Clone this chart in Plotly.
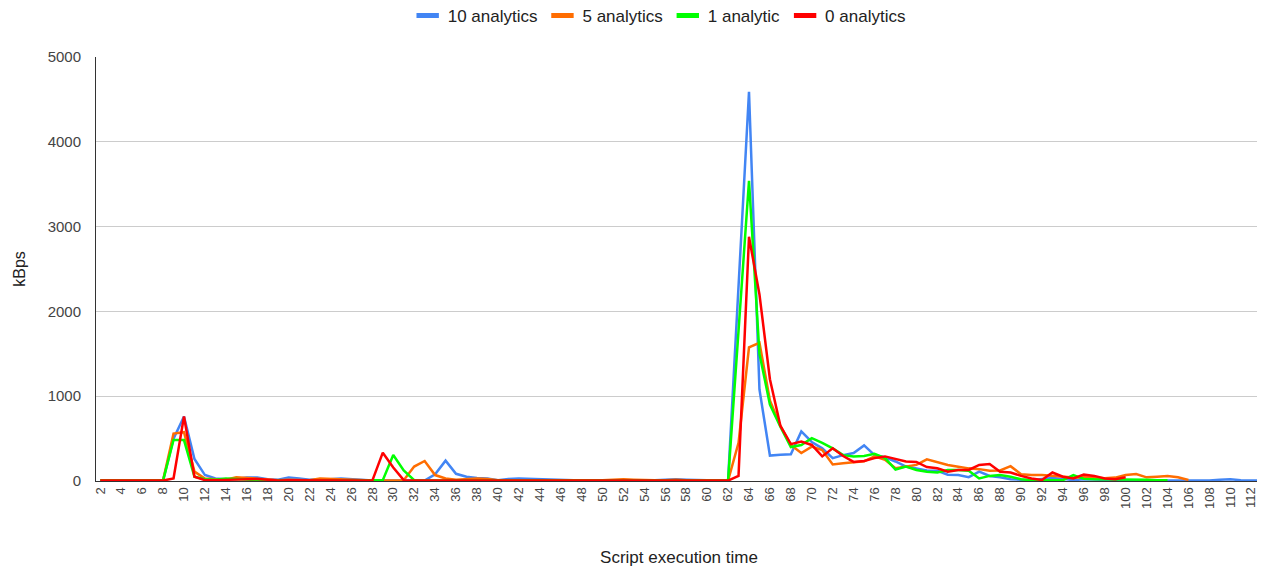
import plotly.graph_objects as go

x_vals = list(range(2, 114))

ten_analytics = [
    5, 5, 5, 5, 5, 5, 5, 500, 760, 260,          # 2-11
    70, 30, 20, 25, 40, 40, 20, 15, 40, 30,      # 12-21
    15, 20, 20, 30, 20, 10, 5, 5, 5, 5,          # 22-31
    5, 5, 80, 240, 85, 50, 35, 30, 10, 25,       # 32-41
    30, 25, 20, 15, 10, 5, 5, 5, 5, 5,           # 42-51
    5, 5, 10, 10, 15, 20, 15, 10, 5, 5,          # 52-61
    5, 2300, 4590, 1080, 300, 310, 315, 585, 460, 385,   # 62-71
    270, 305, 330, 420, 305, 280, 230, 170, 150, 125,    # 72-81
    120, 75, 70, 45, 110, 60, 45, 20, 15, 10,            # 82-91
    25, 35, 25, 10, 20, 15, 10, 10, 10, 5,               # 92-101
    5, 5, 5, 5, 5, 5, 5, 15, 20, 10,                     # 102-111
    5, 5                                                 # 112-113
]

five_analytics = [
    10, 10, 10, 10, 10, 10, 10, 560, 575, 110,   # 2-11
    30, 20, 15, 45, 35, 30, 15, 10, 15, 15,      # 12-21
    10, 30, 25, 20, 10, 10, 5, 5, 5, 10,         # 22-31
    170, 236, 70, 30, 15, 20, 30, 25, 10, 10,    # 32-41
    10, 10, 10, 5, 5, 5, 5, 10, 10, 15,          # 42-51
    20, 15, 10, 10, 10, 15, 10, 10, 5, 5,        # 52-61
    5, 450, 1575, 1630, 950, 650, 425, 330, 405, 365,    # 62-71
    195, 210, 220, 232, 290, 250, 150, 170, 190, 256,    # 72-81
    225, 189, 169, 149, 140, 120, 125, 175, 80, 70,      # 82-91
    71, 60, 45, 40, 45, 40, 31, 40, 71, 83,              # 92-101
    43, 51, 59, 43, 12,                                  # 102-106
    None, None, None, None, None, None, None             # 107-113
]

one_analytic = [
    5, 5, 5, 5, 5, 5, 5, 483, 483, 50,           # 2-11
    20, 15, 30, 25, 15, 10, 10, 10, 10, 10,      # 12-21
    5, 5, 5, 5, 5, 5, 5, 10, 306, 125,           # 22-31
    10, 5, 5, 5, 5, 5, 5, 5, 5, 5,               # 32-41
    5, 5, 5, 5, 5, 5, 5, 5, 5, 5,                # 42-51
    5, 5, 5, 5, 5, 5, 5, 5, 5, 5,                # 52-61
    5, 1770, 3540, 1500, 900, 640, 400, 425, 505, 450,   # 62-71
    385, 305, 290, 295, 320, 270, 135, 170, 130, 110,    # 72-81
    100, 130, 130, 120, 30, 60, 70, 50, 20, 10,          # 82-91
    10, 15, 10, 70, 25, 20, 20, 15, 20, 15,              # 92-101
    15, 10, 10,                                          # 102-104
    None, None, None, None, None, None, None, None, None # 105-113
]

zero_analytics = [
    5, 5, 5, 5, 5, 5, 5, 30, 760, 50,            # 2-11
    10, 10, 15, 20, 20, 25, 15, 5, 10, 10,       # 12-21
    5, 10, 5, 5, 5, 5, 5, 334, 160, 10,          # 22-31
    5, 5, 5, 5, 5, 5, 5, 5, 5, 5,                # 32-41
    5, 5, 5, 5, 5, 5, 5, 5, 5, 5,                # 42-51
    5, 5, 5, 5, 5, 5, 5, 5, 5, 5,                # 52-61
    5, 60, 2880, 2200, 1200, 650, 435, 465, 425, 290,    # 62-71
    385, 295, 225, 235, 270, 290, 260, 230, 225, 165,    # 72-81
    150, 110, 130, 130, 190, 200, 110, 100, 60, 30,      # 82-91
    12, 100, 50, 30, 75, 60, 30, 20, 45,                 # 92-100
    None, None, None, None, None, None, None, None, None, None, None, None, None  # 101-113
]

series_names = ["10 analytics", "5 analytics", "1 analytic", "0 analytics"]
series_values = [ten_analytics, five_analytics, one_analytic, zero_analytics]
series_colors = ["#4285F4", "#FF6D01", "#00FF00", "#FF0000"]

y_ticks = [0, 1000, 2000, 3000, 4000, 5000]
x_ticks = list(range(2, 113, 2))

fig = go.Figure()
for name, vals, col in zip(series_names, series_values, series_colors):
    fig.add_trace(go.Scatter(
        x=x_vals, y=vals, name=name, mode="lines", showlegend=False,
        line=dict(color=col, width=2.5), connectgaps=False,
    ))
# legend-only entries with a short thick bar symbol
for name, col in zip(series_names, series_colors):
    fig.add_trace(go.Scatter(
        x=[None], y=[None], name=name, mode="markers",
        marker=dict(symbol="line-ew", size=16, color=col, line=dict(width=5, color=col)),
    ))

# page body has an 8px margin, so the figure is sized/offset to compensate
fig.update_layout(
    width=1257, height=562,
    margin=dict(l=88, r=3, t=49, b=89, autoexpand=False),
    paper_bgcolor="white", plot_bgcolor="white",
    font=dict(family="Arial, Liberation Sans, sans-serif", color="#444444", size=12),
    legend=dict(
        orientation="h", x=0.483, xanchor="center", y=1.0967, yanchor="middle",
        font=dict(size=17, color="#222222"), itemwidth=30,
        traceorder="normal",
    ),
    xaxis=dict(
        range=[1.59, 113.03], tickmode="array", tickvals=x_ticks,
        ticktext=[str(v) for v in x_ticks], tickangle=-90, automargin=False,
        showgrid=False, zeroline=False, showline=True, linecolor="#333333",
        linewidth=1, ticks="", tickfont=dict(size=13, color="#444444"),
        title=dict(text="Script execution time", font=dict(size=17, color="#222222"), standoff=43),
    ),
    yaxis=dict(
        range=[0, 5000], tickmode="array", tickvals=y_ticks, automargin=False,
        showgrid=True, gridcolor="#CCCCCC", gridwidth=1, zeroline=False,
        showline=True, linecolor="#333333", linewidth=1, ticks="",
        ticklabelstandoff=11, tickfont=dict(size=15, color="#444444"),
        title=dict(text="kBps", font=dict(size=16, color="#222222"), standoff=18),
    ),
)

fig.write_html("out.html")
